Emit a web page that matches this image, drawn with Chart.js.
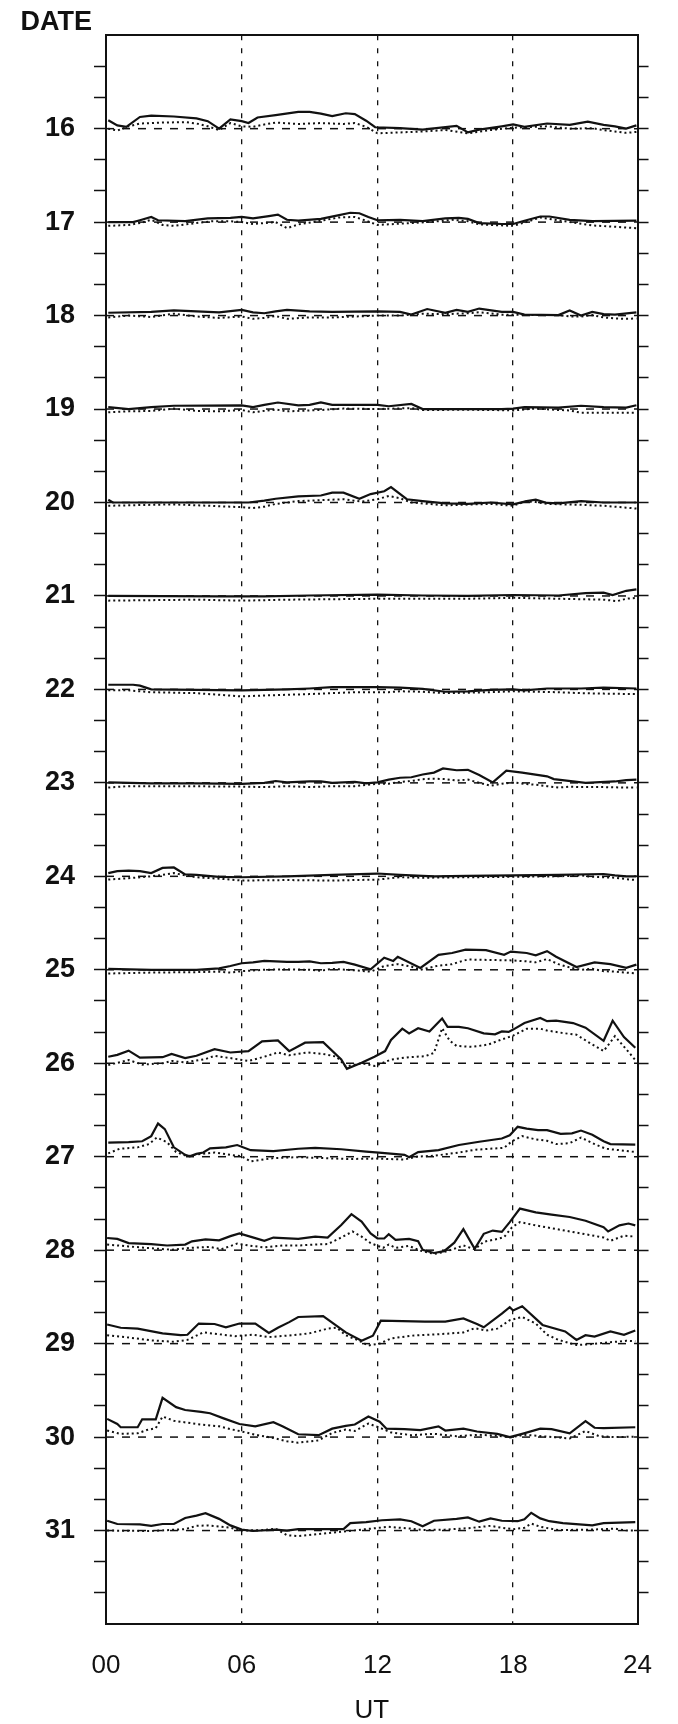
<!DOCTYPE html>
<html>
<head>
<meta charset="utf-8">
<script src="https://cdn.jsdelivr.net/npm/chart.js@4.4.1/dist/chart.umd.min.js"></script>
<style>
html,body{margin:0;padding:0;background:#fff;}
#wrap{width:678px;height:1724px;position:relative;background:#fff;}
</style>
</head>
<body>
<div id="wrap"><canvas id="c" width="678" height="1724"></canvas></div>
<script>
// ---------- DATA (hour, upward deviation from the date baseline, in day units) ----------
const DATES = [16,17,18,19,20,21,22,23,24,25,26,27,28,29,30,31];
const X_TICK_VALUES = [0, 6, 12, 18, 23.5];
const X_TICK_LABELS = ['00','06','12','18','24'];
const GRID_HOURS = [6, 12, 18];
const X_MAX = 23.5;
const Y_MIN = 15, Y_MAX = 32;

const solid16 = [[0.1,0.09],[0.5,0.035],[0.9,0.02],[1.5,0.125],[2,0.14],[3,0.13],[4,0.11],[4.5,0.08],[5,0.0],[5.5,0.1],[6,0.08],[6.3,0.06],[6.7,0.12],[7.5,0.145],[8.5,0.18],[9,0.18],[9.5,0.16],[10,0.135],[10.6,0.165],[11,0.155],[11.5,0.085],[11.9,0.015],[13,0.005],[14,-0.01],[14.6,0.005],[15.5,0.03],[16,-0.04],[16.5,-0.01],[17.5,0.025],[18,0.045],[18.5,0.02],[19.5,0.055],[20.5,0.04],[21.3,0.075],[22,0.04],[22.5,0.025],[23,0.0],[23.45,0.035]];
const dotted16 = [[0.1,0.0],[0.5,-0.02],[1,0.025],[1.5,0.055],[2.5,0.065],[3.5,0.07],[4,0.055],[4.5,0.025],[5,-0.015],[5.5,0.06],[6,0.025],[6.5,0.02],[7,0.045],[7.5,0.065],[8.5,0.05],[9.5,0.06],[10.5,0.05],[11,0.06],[11.5,0.02],[12,-0.05],[13,-0.04],[14,-0.03],[15,-0.015],[16,-0.05],[17,-0.015],[18,0.01],[19.5,0.025],[20.5,0.0],[21.5,0.005],[22,-0.015],[22.5,-0.03],[23,-0.045],[23.45,-0.035]];

const solid17 = [[0.1,0],[1.2,0],[1.5,0.02],[2,0.055],[2.3,0.02],[3.5,0.01],[4.5,0.04],[5.5,0.045],[6,0.055],[6.5,0.04],[7.2,0.065],[7.6,0.08],[8,0.025],[8.5,0.015],[9.5,0.035],[10.2,0.07],[10.8,0.1],[11.2,0.095],[11.6,0.055],[12,0.02],[13,0.025],[14,0.01],[15,0.04],[15.6,0.045],[16,0.035],[16.5,-0.01],[17.5,-0.02],[18,-0.02],[18.5,0.015],[19.2,0.06],[19.6,0.06],[20.5,0.025],[21.5,0.01],[23.45,0.015]];
const dotted17 = [[0.1,-0.04],[1,-0.03],[1.5,-0.01],[2,0.025],[2.5,-0.03],[3,-0.04],[4,-0.01],[4.7,0.01],[5.5,0.01],[6,0.0],[6.5,-0.02],[7.5,0.0],[8,-0.065],[8.5,-0.025],[9.5,0.015],[10.3,0.05],[11,0.055],[11.5,0.015],[12,-0.03],[13.5,-0.01],[14.5,0.005],[15.3,0.025],[16,0.01],[16.5,-0.025],[18,-0.04],[18.5,-0.005],[19.2,0.05],[19.6,0.035],[20.5,0.0],[21.5,-0.035],[22.5,-0.05],[23.45,-0.065]];

const solid18 = [[0.1,0.03],[2,0.04],[3,0.055],[4,0.045],[5,0.035],[6,0.06],[6.5,0.035],[7,0.025],[7.5,0.045],[8,0.06],[9,0.045],[10,0.04],[12,0.045],[13,0.04],[13.5,0.01],[14.2,0.07],[15,0.03],[15.5,0.06],[16,0.04],[16.5,0.075],[17.5,0.04],[18,0.04],[18.5,0.01],[20,0.005],[20.5,0.055],[21,0.0],[21.5,0.04],[22,0.015],[22.5,0.01],[23.45,0.035]];
const dotted18 = [[0.1,-0.02],[1,0.0],[2,-0.015],[3,0.02],[4,-0.01],[5,-0.025],[6,-0.01],[6.5,-0.035],[7,-0.025],[7.5,-0.005],[8,-0.035],[9,-0.02],[10,-0.02],[11,-0.01],[12,0.0],[13,0.0],[14,0.02],[15,0.015],[16,0.025],[16.5,0.035],[17.5,0.01],[18,0.01],[19,0.005],[20,0.005],[20.5,-0.01],[21,-0.01],[21.5,0.005],[22,-0.02],[22.5,-0.03],[23,-0.035],[23.45,-0.03]];

const solid19 = [[0.1,0.02],[1,0.0],[2,0.02],[3,0.035],[6,0.04],[6.5,0.02],[7,0.045],[7.6,0.07],[8.5,0.04],[9,0.045],[9.5,0.07],[10,0.045],[12,0.045],[12.5,0.03],[13.5,0.055],[14,0.0],[16,0.0],[17.5,0.0],[18,0.005],[18.5,0.02],[20,0.015],[21,0.035],[22,0.02],[23,0.015],[23.45,0.04]];
const dotted19 = [[0.1,-0.035],[1,-0.025],[2,-0.02],[3,0.005],[4,-0.02],[5,-0.025],[6,-0.01],[6.5,-0.035],[7.5,-0.005],[8,-0.025],[9.5,-0.01],[10.5,0.005],[12,0.0],[13.5,0.01],[14,-0.01],[16,-0.008],[17,-0.01],[18,-0.015],[19,0.005],[20,-0.01],[20.5,-0.015],[21,-0.04],[23.45,-0.04]];

const solid20 = [[0.1,0.03],[0.3,0.0],[6.3,0.0],[7,0.02],[7.5,0.04],[8.5,0.065],[9.5,0.075],[10,0.105],[10.5,0.105],[11.2,0.04],[11.7,0.09],[12.3,0.12],[12.6,0.165],[13.3,0.035],[14,0.015],[15,-0.01],[16,-0.015],[17,0.0],[18,-0.02],[18.6,0.015],[19,0.03],[19.5,-0.005],[20,-0.01],[21,0.015],[22,0.0],[23.45,0.0]];
const dotted20 = [[0.1,-0.035],[3,-0.02],[5,-0.04],[6,-0.05],[6.5,-0.06],[7,-0.045],[7.5,-0.015],[8.5,0.015],[10,0.03],[10.5,0.035],[11.3,0.01],[12,0.035],[12.5,0.07],[13,0.045],[13.5,0.0],[15,-0.03],[17,-0.015],[18,-0.035],[18.5,0.01],[19,0.005],[19.5,-0.015],[21,-0.025],[22,-0.035],[23,-0.055],[23.45,-0.065]];

const solid21 = [[0.1,0.0],[5,-0.005],[7,-0.005],[9,0.005],[12,0.015],[14,0.005],[16,0.0],[18,0.01],[20,0.005],[21.2,0.03],[22,0.035],[22.4,0.01],[23,0.055],[23.45,0.07]];
const dotted21 = [[0.1,-0.05],[2,-0.045],[4,-0.04],[6,-0.05],[8,-0.04],[10,-0.035],[12,-0.03],[14,-0.03],[16,-0.03],[18,-0.02],[20,-0.03],[21,-0.035],[22,-0.04],[22.6,-0.055],[23,-0.03],[23.45,-0.02]];

const solid22 = [[0.1,0.05],[1.2,0.05],[1.5,0.04],[2,0.0],[6,-0.01],[8,0.0],[9,0.01],[10,0.025],[12,0.025],[13,0.02],[14,0.005],[15,-0.025],[16,-0.02],[17,-0.005],[18,0.0],[18.5,-0.01],[19.5,0.01],[21,0.01],[22,0.02],[23.45,0.01]];
const dotted22 = [[0.1,-0.01],[1,-0.01],[2,-0.03],[4,-0.04],[6,-0.075],[7,-0.065],[9,-0.05],[11,-0.03],[12.5,-0.03],[13,-0.02],[14,-0.025],[15,-0.04],[17,-0.03],[18,-0.02],[19,-0.025],[20,-0.03],[21,-0.04],[22,-0.045],[23.45,-0.05]];

const solid23 = [[0.1,0.005],[2,-0.005],[4,-0.005],[6,-0.01],[7,0.0],[7.5,0.02],[8,0.005],[9,0.015],[9.5,0.015],[10,0.0],[11,0.01],[11.5,-0.005],[12,0.005],[12.5,0.035],[13,0.055],[13.5,0.06],[14,0.09],[14.5,0.11],[14.9,0.155],[15.5,0.135],[16,0.14],[16.5,0.085],[17.1,0.005],[17.7,0.13],[18.4,0.11],[19.5,0.07],[19.8,0.04],[21.2,0.0],[22.5,0.015],[23,0.03],[23.45,0.035]];
const dotted23 = [[0.1,-0.05],[1,-0.035],[3,-0.035],[6,-0.04],[7,-0.045],[8,-0.035],[9,-0.045],[10,-0.035],[11,-0.035],[12,-0.01],[12.5,-0.01],[13,0.01],[13.5,0.02],[14,0.04],[14.5,0.045],[15,0.04],[15.5,0.025],[16,0.035],[16.5,0.0],[17,-0.03],[17.5,-0.01],[18,0.005],[18.5,-0.01],[19,-0.02],[19.5,-0.035],[20,-0.05],[20.5,-0.04],[21,-0.045],[22,-0.045],[23,-0.05],[23.45,-0.05]];

const solid24 = [[0.1,0.035],[0.5,0.055],[1,0.06],[1.5,0.055],[2,0.035],[2.5,0.09],[3,0.095],[3.5,0.02],[4,0.015],[5,-0.005],[6,-0.01],[8,0.0],[10,0.015],[12,0.03],[13,0.015],[14.5,0.0],[16,0.005],[18,0.01],[20,0.015],[22,0.025],[22.5,0.01],[23,0.0],[23.45,0.0]];
const dotted24 = [[0.1,-0.035],[1,-0.02],[2,0.0],[2.5,0.015],[3,0.035],[3.5,0.01],[4,-0.01],[5,-0.025],[6,-0.045],[8,-0.04],[10,-0.045],[12,-0.035],[13,-0.01],[14,-0.015],[16,-0.01],[18,-0.005],[20,0.0],[21,0.01],[21.5,-0.005],[22,-0.01],[22.5,-0.015],[23,-0.03],[23.45,-0.04]];

const solid25 = [[0.1,0.01],[2,0.0],[4,0.0],[5,0.015],[5.5,0.04],[6,0.07],[6.5,0.08],[7,0.095],[7.5,0.09],[8,0.085],[8.5,0.085],[9,0.09],[9.5,0.07],[10,0.075],[10.5,0.085],[11,0.055],[11.7,0.005],[12.3,0.13],[12.7,0.095],[12.9,0.14],[13.9,0.02],[14.7,0.16],[15.3,0.18],[15.9,0.215],[16.8,0.21],[17.6,0.16],[17.9,0.195],[18.6,0.18],[19.0,0.155],[19.5,0.2],[19.9,0.14],[20.8,0.03],[21.6,0.08],[22.3,0.06],[23.0,0.02],[23.45,0.055]];
const dotted25 = [[0.1,-0.04],[2,-0.03],[4,-0.025],[5,-0.02],[5.5,-0.03],[6,-0.015],[7,0.0],[8,0.005],[9,0.0],[9.5,-0.01],[10,0.01],[11,-0.005],[11.7,-0.02],[12.3,0.04],[12.9,0.06],[13.5,0.035],[13.9,0.0],[14.7,0.045],[15.3,0.06],[15.7,0.09],[16,0.11],[17,0.105],[18,0.1],[18.6,0.09],[19,0.08],[19.5,0.115],[20,0.06],[20.5,0.025],[21,0.0],[21.5,0.01],[22,-0.015],[22.5,-0.02],[23,-0.03],[23.45,-0.04]];

const solid26 = [[0.1,0.07],[0.5,0.09],[1.0,0.135],[1.5,0.06],[2.5,0.065],[2.9,0.1],[3.5,0.055],[4,0.08],[4.8,0.15],[5.5,0.115],[6.3,0.13],[6.9,0.235],[7.6,0.245],[8.1,0.13],[8.8,0.22],[9.6,0.225],[10.4,0.04],[10.65,-0.06],[11.3,0.005],[11.87,0.07],[12.34,0.13],[12.6,0.25],[13.1,0.37],[13.4,0.32],[13.8,0.375],[14.3,0.34],[14.86,0.48],[15.1,0.39],[15.6,0.39],[16.0,0.375],[16.7,0.32],[17.2,0.31],[17.5,0.34],[17.8,0.335],[18.0,0.36],[18.5,0.43],[19.2,0.485],[19.5,0.45],[19.9,0.455],[20.65,0.43],[21.2,0.38],[22.0,0.24],[22.4,0.455],[22.9,0.28],[23.4,0.165]];
const dotted26 = [[0.1,-0.02],[1.0,0.035],[1.6,-0.015],[2.5,0.0],[2.9,0.025],[3.5,0.01],[4.4,0.045],[4.8,0.08],[5.5,0.055],[6.3,0.025],[7.0,0.07],[7.6,0.115],[8.1,0.085],[8.9,0.115],[9.6,0.1],[10.2,0.07],[10.6,-0.035],[11.3,0.0],[11.9,-0.03],[12.6,0.04],[13.4,0.065],[14.1,0.075],[14.5,0.11],[14.86,0.375],[15.2,0.24],[15.5,0.185],[16.2,0.175],[16.9,0.2],[17.5,0.255],[18.0,0.295],[18.6,0.37],[19.2,0.37],[19.5,0.35],[20.3,0.32],[20.8,0.305],[21.4,0.215],[22.0,0.13],[22.5,0.29],[23.0,0.15],[23.4,0.035]];

const solid27 = [[0.1,0.15],[1.0,0.155],[1.6,0.165],[2.0,0.22],[2.3,0.355],[2.6,0.295],[3.0,0.1],[3.5,0.02],[3.7,0.005],[4.0,0.03],[4.3,0.045],[4.6,0.09],[5.3,0.1],[5.8,0.125],[6.4,0.07],[7.4,0.06],[8.5,0.085],[9.25,0.095],[10.4,0.08],[11.5,0.055],[12.2,0.04],[13.2,0.02],[13.4,-0.005],[13.8,0.05],[14.7,0.07],[15.6,0.125],[16.5,0.16],[17.5,0.195],[17.85,0.23],[18.2,0.32],[18.6,0.3],[19.1,0.285],[19.5,0.285],[20.1,0.245],[20.6,0.25],[21.0,0.28],[21.5,0.235],[22.0,0.165],[22.3,0.135],[23.4,0.13]];
const dotted27 = [[0.1,0.035],[0.6,0.085],[1.4,0.1],[1.9,0.135],[2.25,0.205],[2.7,0.155],[3.1,0.05],[3.6,0.005],[4.2,0.03],[4.8,0.045],[5.5,0.02],[6.0,0.005],[6.4,-0.05],[7.4,-0.015],[8.5,-0.005],[9.6,-0.015],[10.7,-0.025],[11.9,-0.02],[13.2,-0.03],[13.7,0.0],[14.5,0.01],[15.6,0.045],[16.35,0.075],[17.6,0.095],[17.95,0.165],[18.4,0.22],[19.0,0.185],[19.5,0.17],[19.9,0.135],[20.5,0.145],[21.0,0.205],[21.6,0.135],[22.1,0.085],[22.7,0.07],[23.4,0.05]];

const solid28 = [[0.05,0.13],[0.5,0.12],[1.0,0.075],[2.0,0.065],[2.7,0.05],[3.5,0.06],[3.8,0.095],[4.4,0.115],[5.0,0.105],[5.5,0.15],[5.9,0.18],[6.45,0.14],[7.0,0.1],[7.4,0.135],[8.5,0.12],[9.25,0.145],[9.8,0.135],[10.4,0.27],[10.85,0.385],[11.3,0.305],[11.7,0.18],[12.0,0.125],[12.3,0.125],[12.5,0.17],[12.8,0.11],[13.4,0.12],[13.8,0.095],[14.0,0.005],[14.5,-0.03],[14.95,-0.01],[15.4,0.08],[15.8,0.225],[16.3,0.015],[16.7,0.175],[17.1,0.21],[17.5,0.195],[17.85,0.3],[18.3,0.445],[19.0,0.405],[19.7,0.38],[20.5,0.355],[21.2,0.315],[22.0,0.245],[22.2,0.2],[22.7,0.265],[23.1,0.285],[23.4,0.265]];
const dotted28 = [[0.05,0.06],[1.0,0.04],[2.0,0.02],[2.9,0.005],[3.8,0.025],[4.6,0.035],[5.1,0.01],[5.8,0.07],[6.45,0.045],[7.0,0.03],[7.8,0.05],[8.5,0.05],[9.25,0.06],[9.8,0.065],[10.4,0.135],[10.9,0.2],[11.3,0.145],[11.7,0.075],[12.25,0.025],[12.5,0.06],[12.8,0.025],[13.4,0.045],[13.9,-0.005],[14.5,-0.04],[14.95,-0.02],[15.4,0.015],[15.8,0.05],[16.3,0.01],[16.7,0.09],[17.3,0.12],[17.6,0.14],[17.95,0.245],[18.3,0.3],[19.0,0.265],[19.7,0.235],[20.5,0.2],[21.2,0.17],[22.0,0.135],[22.3,0.1],[22.9,0.155],[23.4,0.145]];

const solid29 = [[0.05,0.205],[0.65,0.17],[1.4,0.16],[2.5,0.11],[3.3,0.09],[3.6,0.095],[4.1,0.215],[4.8,0.21],[5.3,0.175],[5.9,0.215],[6.6,0.215],[7.2,0.115],[7.6,0.17],[8.1,0.23],[8.5,0.285],[9.6,0.295],[10.2,0.19],[10.6,0.12],[11.3,0.03],[11.8,0.085],[12.15,0.245],[14.1,0.235],[15.0,0.235],[15.8,0.27],[16.4,0.21],[16.7,0.175],[17.5,0.32],[17.85,0.39],[18.0,0.355],[18.4,0.4],[19.3,0.2],[20.3,0.13],[20.8,0.04],[21.2,0.09],[21.6,0.075],[22.3,0.13],[22.9,0.095],[23.4,0.14]];
const dotted29 = [[0.05,0.09],[1.0,0.065],[2.0,0.035],[3.0,0.02],[3.6,0.04],[4.3,0.12],[5.0,0.1],[5.7,0.08],[6.5,0.095],[7.2,0.07],[8.0,0.085],[9.0,0.11],[9.8,0.16],[10.2,0.17],[10.6,0.09],[11.2,0.03],[11.6,-0.02],[12.1,0.0],[12.6,0.055],[13.5,0.085],[15.0,0.105],[15.8,0.12],[16.3,0.165],[16.8,0.14],[17.3,0.16],[17.85,0.25],[18.4,0.285],[19.0,0.215],[19.5,0.095],[20.0,0.04],[20.8,-0.015],[21.5,-0.005],[22.3,0.015],[23.0,0.03],[23.4,0.025]];

const solid30 = [[0.05,0.195],[0.5,0.14],[0.65,0.105],[1.4,0.105],[1.6,0.19],[2.2,0.19],[2.5,0.42],[3.1,0.32],[3.5,0.29],[4.2,0.27],[4.6,0.255],[5.2,0.2],[5.9,0.14],[6.6,0.115],[7.4,0.16],[7.8,0.115],[8.5,0.03],[9.4,0.02],[10.0,0.09],[10.6,0.12],[11.0,0.135],[11.6,0.22],[12.1,0.165],[12.4,0.09],[13.2,0.085],[13.9,0.075],[14.7,0.115],[15.0,0.07],[15.8,0.09],[16.4,0.06],[17.3,0.035],[17.85,0.0],[18.4,0.035],[19.2,0.09],[19.7,0.085],[20.5,0.04],[21.2,0.17],[21.6,0.1],[22.0,0.095],[23.4,0.105]];
const dotted30 = [[0.05,0.07],[0.6,0.035],[1.4,0.04],[1.8,0.075],[2.2,0.095],[2.5,0.22],[3.0,0.175],[4.0,0.14],[5.0,0.115],[5.6,0.08],[6.0,0.06],[6.6,0.025],[7.4,-0.01],[8.0,-0.045],[8.5,-0.06],[9.4,-0.035],[10.0,0.045],[10.6,0.08],[11.0,0.065],[11.6,0.145],[12.1,0.1],[12.6,0.05],[13.5,0.02],[14.5,0.035],[15.5,0.01],[16.5,0.025],[17.3,0.015],[17.85,-0.005],[18.5,0.025],[19.5,0.005],[20.5,-0.015],[21.2,0.065],[21.8,0.01],[22.5,0.0],[23.4,0.005]];

const solid31 = [[0.05,0.105],[0.5,0.07],[1.5,0.065],[2.0,0.05],[2.5,0.07],[3.0,0.07],[3.5,0.135],[4.0,0.16],[4.4,0.185],[5.0,0.125],[5.5,0.055],[6.0,0.01],[6.5,-0.005],[7.5,0.01],[8.0,0.0],[8.5,0.015],[10.5,0.015],[10.8,0.08],[11.5,0.09],[12.2,0.11],[13.0,0.12],[13.5,0.1],[14.0,0.045],[14.5,0.105],[15.5,0.125],[16.0,0.14],[16.5,0.095],[17.0,0.13],[17.5,0.105],[18.2,0.1],[18.5,0.12],[18.8,0.19],[19.2,0.13],[19.6,0.1],[20.2,0.08],[21.5,0.055],[22.0,0.08],[23.4,0.09]];
const dotted31 = [[0.05,0.0],[2.0,-0.005],[3.5,0.015],[4.0,0.05],[4.5,0.055],[5.5,0.03],[6.0,0.0],[7.0,0.005],[7.5,0.02],[8.0,-0.05],[8.5,-0.06],[9.5,-0.035],[10.5,-0.01],[11.5,0.015],[12.5,0.04],[13.5,0.02],[14.0,0.005],[15.0,0.01],[16.0,0.025],[17.0,0.05],[17.5,0.03],[18.0,0.015],[18.5,0.03],[18.8,0.075],[19.2,0.04],[20.0,0.005],[21.5,0.01],[22.5,0.02],[23.0,0.0],[23.4,0.0]];

const SOLID = {16:solid16,17:solid17,18:solid18,19:solid19,20:solid20,21:solid21,22:solid22,23:solid23,24:solid24,25:solid25,26:solid26,27:solid27,28:solid28,29:solid29,30:solid30,31:solid31};
const DOTTED = {16:dotted16,17:dotted17,18:dotted18,19:dotted19,20:dotted20,21:dotted21,22:dotted22,23:dotted23,24:dotted24,25:dotted25,26:dotted26,27:dotted27,28:dotted28,29:dotted29,30:dotted30,31:dotted31};

// ---------- STYLE ----------
const FONT = '"Liberation Sans", Arial, Helvetica, sans-serif';
const INK = '#111';

const Y_TICK_VALUES = [];
for (let k = 1; k < (Y_MAX - Y_MIN) * 3; k++) Y_TICK_VALUES.push(Y_MIN + k / 3);

function dateLabel(v) {
  const r = Math.round(v);
  return (Math.abs(v - r) < 1e-6 && DATES.includes(r)) ? String(r) : '';
}

const datasets = [];
DATES.forEach(d => {
  datasets.push({
    label: 'solid ' + d,
    data: SOLID[d].map(([h, v]) => ({x: h, y: d - v})),
    borderColor: INK, borderWidth: 2.2, pointRadius: 0, tension: 0, fill: false, order: 0
  });
  datasets.push({
    label: 'dotted ' + d,
    data: DOTTED[d].map(([h, v]) => ({x: h, y: d - v})),
    borderColor: INK, borderWidth: 2, borderDash: [2, 3], pointRadius: 0, tension: 0, fill: false, order: 1
  });
  datasets.push({
    label: 'base ' + d,
    data: [{x: 0, y: d}, {x: X_MAX, y: d}],
    borderColor: INK, borderWidth: 1.5, borderDash: [8, 8], pointRadius: 0, tension: 0, fill: false, order: 2
  });
});

const dateTitle = {
  id: 'dateTitle',
  afterDraw(chart) {
    const ctx = chart.ctx;
    ctx.save();
    ctx.font = 'bold 27px ' + FONT;
    ctx.fillStyle = INK;
    ctx.textAlign = 'right';
    ctx.textBaseline = 'middle';
    ctx.fillText('DATE', 92, 23);
    ctx.restore();
  }
};

new Chart(document.getElementById('c'), {
  type: 'line',
  data: { datasets },
  options: {
    responsive: false,
    animation: false,
    layout: { padding: { top: 23, left: 0, right: 0, bottom: 0 } },
    plugins: { legend: { display: false }, tooltip: { enabled: false }, title: { display: false } },
    scales: {
      x: {
        type: 'linear', position: 'bottom', min: 0, max: X_MAX,
        afterBuildTicks: s => { s.ticks = X_TICK_VALUES.map(v => ({value: v})); },
        afterFit: s => { s.height = 100; },
        ticks: {
          autoSkip: false, maxRotation: 0, padding: 26, color: INK,
          font: { family: FONT, size: 26 },
          callback: (v, i) => X_TICK_LABELS[i]
        },
        grid: {
          drawTicks: false, drawOnChartArea: true, lineWidth: 1.3,
          color: c => (c.tick && GRID_HOURS.includes(c.tick.value)) ? INK : 'rgba(0,0,0,0)'
        },
        border: { display: true, color: INK, width: 2, dash: [5, 8] },
        title: { display: true, text: 'UT', color: INK, font: { family: FONT, size: 26, lineHeight: 1 }, padding: 0 }
      },
      x2: {
        type: 'linear', position: 'top', min: 0, max: X_MAX,
        afterFit: s => { s.height = 0; },
        ticks: { display: false },
        grid: { drawOnChartArea: false, drawTicks: false },
        border: { display: true, color: INK, width: 2 }
      },
      y: {
        type: 'linear', position: 'left', reverse: true, min: Y_MIN, max: Y_MAX,
        afterBuildTicks: s => { s.ticks = Y_TICK_VALUES.map(v => ({value: v})); },
        afterFit: s => { s.width = 106; },
        ticks: {
          autoSkip: false, padding: 19, color: INK,
          font: { family: FONT, size: 27, weight: 'bold' },
          callback: v => dateLabel(v)
        },
        grid: { drawOnChartArea: false, drawTicks: true, tickLength: 12, tickWidth: 1.5, tickColor: INK },
        border: { display: true, color: INK, width: 2 }
      },
      y2: {
        type: 'linear', position: 'right', reverse: true, min: Y_MIN, max: Y_MAX,
        afterBuildTicks: s => { s.ticks = Y_TICK_VALUES.map(v => ({value: v})); },
        afterFit: s => { s.width = 26; },
        ticks: { autoSkip: false, padding: 0, font: { size: 8 }, callback: () => '' },
        grid: { drawOnChartArea: false, drawTicks: true, tickLength: 11, tickWidth: 1.5, tickColor: INK },
        border: { display: true, color: INK, width: 2 }
      }
    }
  },
  plugins: [dateTitle]
});
</script>
</body>
</html>
